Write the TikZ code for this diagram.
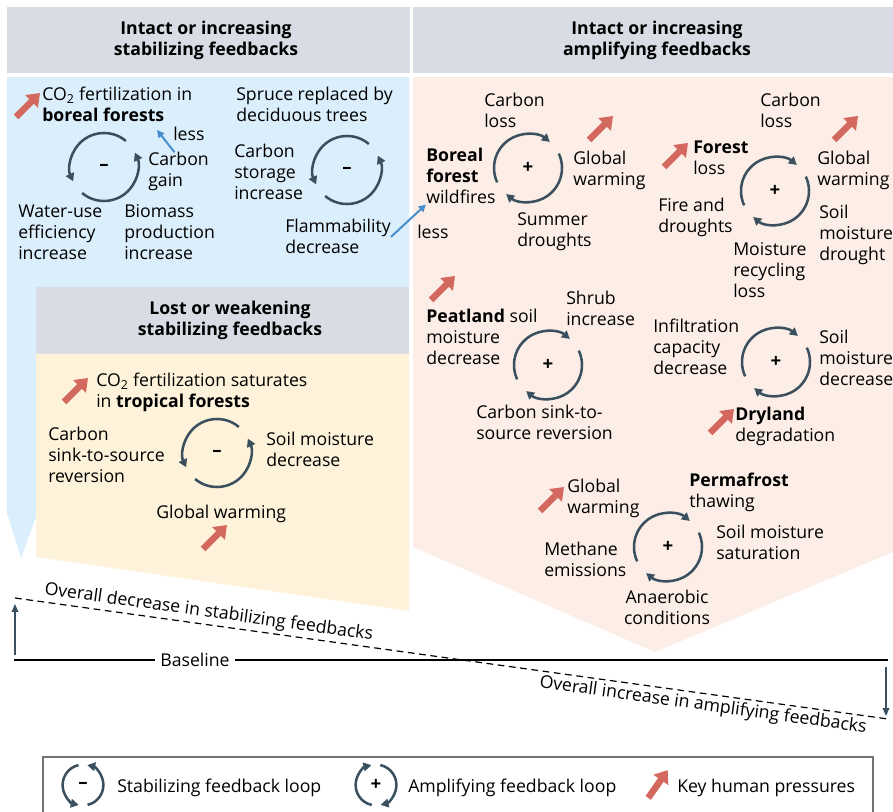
\documentclass[tikz,border=0pt]{standalone}
\usepackage{fontspec}
\setmainfont{Open Sans}
\usetikzlibrary{arrows.meta}

\definecolor{hdrgrey}{RGB}{216,220,228}
\definecolor{stabblue}{RGB}{219,238,251}
\definecolor{lostyellow}{RGB}{254,243,218}
\definecolor{amppeach}{RGB}{252,238,231}
\definecolor{loopslate}{RGB}{58,80,94}
\definecolor{pressred}{RGB}{210,104,94}
\definecolor{lessblue}{RGB}{72,142,206}

\newcommand{\lblfont}{\fontsize{13.25}{15.75}\selectfont}

\begin{document}
\begin{tikzpicture}[x=0.75pt,y=0.75pt,yscale=-1,xscale=1,
  lbl/.style={anchor=base west,inner sep=0pt,align=left,font=\lblfont},
  hdr/.style={anchor=base,inner sep=0pt,align=center,font=\lblfont\bfseries},
  loopline/.style={draw=loopslate,line width=1.9pt,-{Triangle[length=6pt,width=6.5pt]}},
  loopsign/.style={inner sep=0pt,font=\fontsize{14}{14}\selectfont\bfseries},
  stabloop/.pic={
    \draw[loopline] (50:34) arc[start angle=50,end angle=205,radius=34];
    \draw[loopline] (230:34) arc[start angle=230,end angle=385,radius=34];
    \node[loopsign] (-sign) at (0,0) {\textendash};
  },
  amploop/.pic={
    \draw[loopline] (205:34) arc[start angle=205,end angle=50,radius=34];
    \draw[loopline] (25:34) arc[start angle=25,end angle=-130,radius=34];
    \node[loopsign] (-sign) at (0,0) {+};
  },
  pressarrow/.style={draw=pressred,line width=5pt,-{Triangle[length=9pt,width=13pt]}},
  pressure/.pic={\draw[pressarrow] (-12,-12) -- (12,12);},
  lessarrow/.style={draw=lessblue,line width=1.5pt,-{Triangle[length=5.5pt,width=5.5pt]}},
  trendarrow/.style={draw=loopslate,line width=1.1pt,-{Triangle[length=6pt,width=5pt]}},
]
\useasboundingbox (0,0) rectangle (893,812);

%Shape: Polygon [stabilizing panel]
\fill[stabblue] (7,77) -- (409,77) -- (409,560) -- (36,517) -- (21,558) -- (7,513) -- cycle;
%Shape: Polygon [amplifying panel]
\fill[amppeach] (413,77) -- (893,77) -- (893,552) -- (655,652) -- (413,547) -- cycle;
%Shape: Rectangle [headers]
\fill[hdrgrey] (7,7) rectangle (410,73);
\fill[hdrgrey] (413,7) rectangle (893,73);
%Shape: Polygon [lost panel]
\fill[hdrgrey] (36,287) rectangle (409,354);
\fill[lostyellow] (36,354) -- (409,354) -- (409,611) -- (36,557) -- cycle;

% Text Node
\draw (206,56) node [hdr] (hdstab) {Intact or increasing\\stabilizing feedbacks};
% Text Node
\draw (657,56) node [hdr] (hdamp) {Intact or increasing\\amplifying feedbacks};
% Text Node
\draw (230,336) node [hdr] (hdlost) {Lost or weakening\\stabilizing feedbacks};

%Loops
\pic (lpcarbon) at (104,167) {stabloop};
\pic (lpspruce) at (347,170) {stabloop};
\pic (lptropic) at (217,453) {stabloop};
\pic (lpboreal) at (528,168) {amploop};
\pic (lpforest) at (775,191) {amploop};
\pic (lppeat) at (548,365) {amploop};
\pic (lpdry) at (776,362) {amploop};
\pic (lpperma) at (668,547) {amploop};

%Key human pressures
\pic (prco2b) at (28,105) {pressure};
\pic (prboreal) at (601,128) {pressure};
\pic (prforest) at (676,155) {pressure};
\pic (prwarm) at (846,128) {pressure};
\pic (prpeat) at (443,288) {pressure};
\pic (prdry) at (722,421) {pressure};
\pic (prperma) at (552,499) {pressure};
\pic (prco2t) at (76,390) {pressure};
\pic (prwarmt) at (215,537) {pressure};

% Text Node
\draw (42,122) node [lbl] (co2b) {CO\textsubscript{2} fertilization in\\\textbf{boreal forests}};
% Text Node
\draw (173,141) node [lbl] (lessA) {less};
% Text Node
\draw (148,187) node [lbl] (cgain) {Carbon\\gain};
% Text Node
\draw (18,260) node [lbl] (wue) {Water-use\\efficiency\\increase};
% Text Node
\draw (124,260) node [lbl] (biom) {Biomass\\production\\increase};
% Text Node
\draw (236,122) node [lbl] (spruce) {Spruce replaced by\\deciduous trees};
% Text Node
\draw (234,200) node [lbl] (cstor) {Carbon\\storage\\increase};
% Text Node
\draw (285,254) node [lbl] (flamm) {Flammability\\decrease};
% Text Node
\draw (417,239) node [lbl] (lessB) {less};

% Text Node
\draw (484,128) node [lbl] (clossA) {Carbon\\loss};
% Text Node
\draw (426,204) node [lbl] (boreal) {\textbf{Boreal}\\\textbf{forest}\\wildfires};
% Text Node
\draw (573,186) node [lbl] (gwA) {Global\\warming};
% Text Node
\draw (517,247) node [lbl] (summer) {Summer\\droughts};
% Text Node
\draw (760,128) node [lbl] (clossB) {Carbon\\loss};
% Text Node
\draw (693,175) node [lbl] (forest) {\textbf{Forest}\\loss};
% Text Node
\draw (817,186) node [lbl] (gwB) {Global\\warming};
% Text Node
\draw (819,261) node [lbl] (smdrought) {Soil\\moisture\\drought};
% Text Node
\draw (658,233) node [lbl] (fire) {Fire and\\droughts};
% Text Node
\draw (733,298) node [lbl] (recycl) {Moisture\\recycling\\loss};
% Text Node
\draw (426,365) node [lbl] (peat) {\textbf{Peatland} soil\\moisture\\decrease};
% Text Node
\draw (566,326) node [lbl] (shrub) {Shrub\\increase};
% Text Node
\draw (476,440) node [lbl] (csinkA) {Carbon sink-to-\\source reversion};
% Text Node
\draw (653,375) node [lbl] (infil) {Infiltration\\capacity\\decrease};
% Text Node
\draw (819,386) node [lbl] (smdecA) {Soil\\moisture\\decrease};
% Text Node
\draw (735,442) node [lbl] (dry) {\textbf{Dryland}\\degradation};
% Text Node
\draw (567,514) node [lbl] (gwC) {Global\\warming};
% Text Node
\draw (689,508) node [lbl] (perma) {\textbf{Permafrost}\\thawing};
% Text Node
\draw (716,560) node [lbl] (satur) {Soil moisture\\saturation};
% Text Node
\draw (544,577) node [lbl] (methane) {Methane\\emissions};
% Text Node
\draw (667,625) node [lbl,anchor=base,align=center] (anaer) {Anaerobic\\conditions};

% Text Node
\draw (96,408) node [lbl] (co2t) {CO\textsubscript{2} fertilization saturates\\in \textbf{tropical forests}};
% Text Node
\draw (48,483) node [lbl] (csinkB) {Carbon\\sink-to-source\\reversion};
% Text Node
\draw (266,467) node [lbl] (smdecB) {Soil moisture\\decrease};
% Text Node
\draw (156,519) node [lbl] (gwD) {Global warming};

%less arrows
\coordinate (lessAtip) at (157,130);
\draw[lessarrow] ([xshift=-3pt]cgain.north) -- (lessAtip);
\draw[lessarrow] (flamm.east) -- (boreal.south west);

%Baseline and trends
\coordinate (dashA) at (15,598);
\coordinate (dashB) at (888,719);
\coordinate (baseA) at (14,660);
\coordinate (baseB) at (888,660);
\coordinate (upA) at (15,655);
\coordinate (upB) at (15,604);
\coordinate (downA) at (886,667);
\coordinate (downB) at (886,716);
\draw (195,660) node [font=\lblfont,inner xsep=4pt,inner ysep=0pt] (baselbl) {Baseline};
\draw[line width=1.1pt] (baseA) -- (baselbl.west);
\draw[line width=1.1pt] (baselbl.east) -- (baseB);
\draw[line width=0.9pt,dash pattern={on 5pt off 3.5pt}] (dashA) -- (dashB)
  node [pos=0.22,anchor=south,rotate=-7.9,inner sep=2pt,font=\lblfont] (decr) {Overall decrease in stabilizing feedbacks}
  node [pos=0.79,anchor=north,rotate=-7.9,inner sep=2pt,font=\lblfont] (incr) {Overall increase in amplifying feedbacks};
\draw[trendarrow] (upA) -- (upB);
\draw[trendarrow] (downA) -- (downB);

%Legend
\draw[draw=black!55,line width=0.8pt] (43,812) -- (43,757) -- (873,757) -- (873,812);
\pic[scale=0.6,rotate=53] (legstab) at (83,785) {stabloop};
\pic[scale=0.6,rotate=53] (legamp) at (376,785) {amploop};
\pic[rotate=10] (legpress) at (658,784) {pressure};
% Text Node
\draw (117,792) node [lbl] (legstabtxt) {Stabilizing feedback loop};
% Text Node
\draw (408,792) node [lbl] (legamptxt) {Amplifying feedback loop};
% Text Node
\draw (677,792) node [lbl] (legpresstxt) {Key human pressures};

\end{tikzpicture}
\end{document}
